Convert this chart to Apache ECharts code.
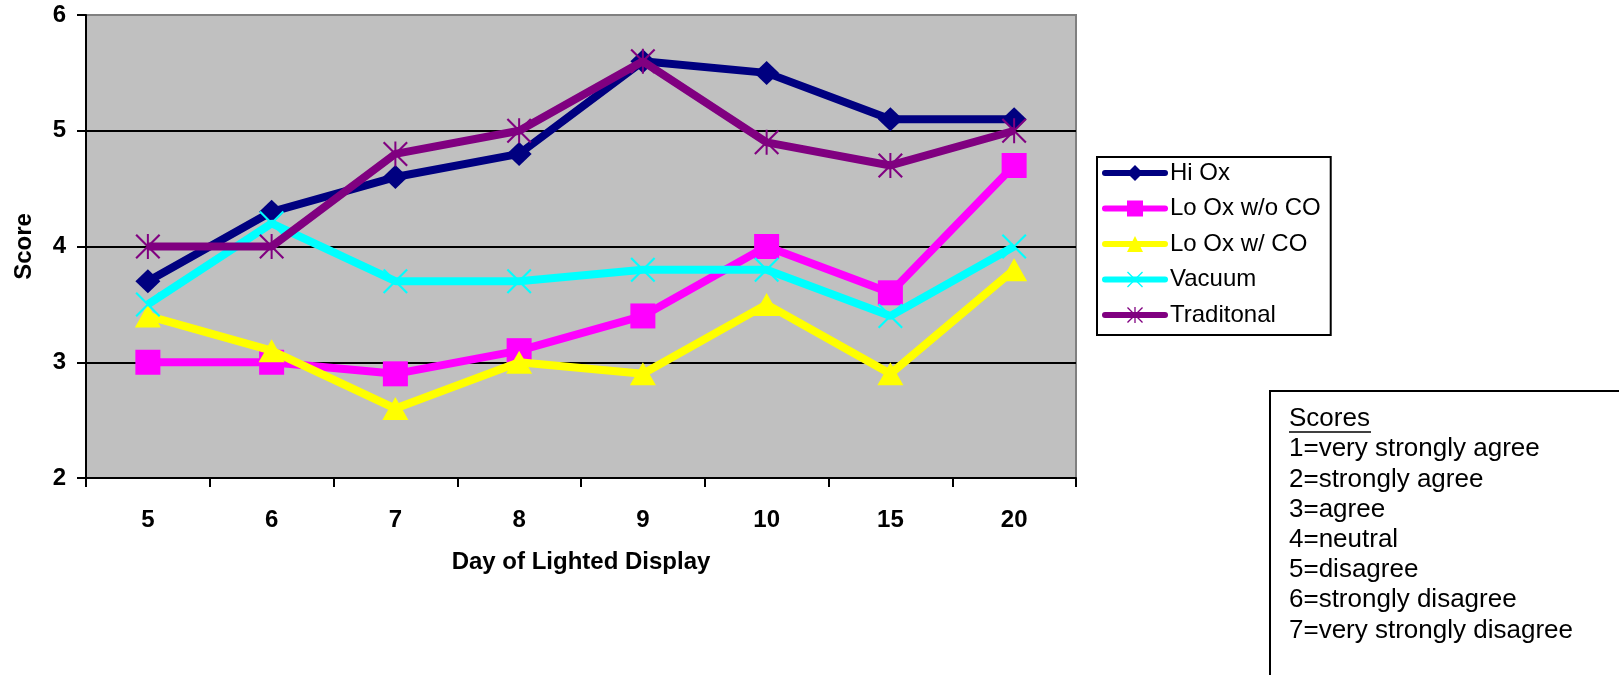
<!DOCTYPE html>
<html>
<head>
<meta charset="utf-8">
<script src="https://cdn.jsdelivr.net/npm/echarts@6/dist/echarts.min.js"></script>
<style>
html,body{margin:0;padding:0;background:#fff;}
#chart{width:1619px;height:675px;}
</style>
</head>
<body>
<div id="chart"></div>
<script>
const categories = ['5', '6', '7', '8', '9', '10', '15', '20'];
const hiOx = [3.7, 4.3, 4.6, 4.8, 5.6, 5.5, 5.1, 5.1];
const loOxNoCO = [3.0, 3.0, 2.9, 3.1, 3.4, 4.0, 3.6, 4.7];
const loOxCO = [3.4, 3.1, 2.6, 3.0, 2.9, 3.5, 2.9, 3.8];
const vacuum = [3.5, 4.2, 3.7, 3.7, 3.8, 3.8, 3.4, 4.0];
const traditional = [4.0, 4.0, 4.8, 5.0, 5.6, 4.9, 4.7, 5.0];
const seriesNames = ['Hi Ox', 'Lo Ox w/o CO', 'Lo Ox w/ CO', 'Vacuum', 'Traditonal'];
const yMin = 2, yMax = 6, yStep = 1;
const xTitle = 'Day of Lighted Display';
const yTitle = 'Score';
const scoresTitle = 'Scores';
const scoreLines = ['1=very strongly agree', '2=strongly agree', '3=agree', '4=neutral',
  '5=disagree', '6=strongly disagree', '7=very strongly disagree'];

const FONT = '"Liberation Sans", Arial, Helvetica, sans-serif';
const xPath = 'path://M0,6L6,0L100,94L94,100ZM94,0L100,6L6,100L0,94Z';
const starPath = 'path://M0,6L6,0L100,94L94,100ZM94,0L100,6L6,100L0,94ZM46,0L54,0L54,100L46,100Z';

const seriesData = [hiOx, loOxNoCO, loOxCO, vacuum, traditional];
const colors = ['#000080', '#FF00FF', '#FFFF00', '#00FFFF', '#800080'];
const symbols = ['diamond', 'rect', 'triangle', xPath, starPath];
const symbolSizes = [[25, 24], [25, 25], [26, 23], [25, 25], [25, 25]];

const chart = echarts.init(document.getElementById('chart'), null, {renderer: 'canvas'});

const lineStep = 30.2;
const firstY = 419;
const scoreGraphics = [
  {type: 'rect', left: 1269, top: 390, shape: {width: 400, height: 320},
   style: {fill: '#fff', stroke: '#000', lineWidth: 2}, z: 10},
  {type: 'text', x: 1289, y: firstY, style: {text: scoresTitle, font: '26px ' + FONT, fill: '#000',
   verticalAlign: 'middle', align: 'left'}, z: 11},
  {type: 'line', shape: {x1: 1289, y1: firstY + 13, x2: 1371, y2: firstY + 13}, style: {stroke: '#000', lineWidth: 1.5}, z: 11}
];
scoreLines.forEach((t, i) => {
  scoreGraphics.push({type: 'text', x: 1289, y: firstY + lineStep * (i + 1),
    style: {text: t, font: '26px ' + FONT, fill: '#000', verticalAlign: 'middle', align: 'left'}, z: 11});
});

const option = {
  animation: false,
  backgroundColor: '#ffffff',
  textStyle: {fontFamily: FONT},
  grid: {left: 86, right: 543, top: 15, bottom: 197, show: true, backgroundColor: '#C0C0C0',
    borderColor: '#808080', borderWidth: 2, containLabel: false, outerBoundsMode: 'none'},
  legend: {
    orient: 'vertical', left: 1097, top: 157,
    data: seriesNames,
    itemWidth: 60, itemHeight: 20, itemGap: 11.5,
    padding: [4, 10, 8, 5],
    borderColor: '#000', borderWidth: 2, backgroundColor: '#fff',
    lineStyle: {width: 6, cap: 'round'},
    textStyle: {fontFamily: FONT, fontSize: 24, color: '#000'},
    selectedMode: false
  },
  xAxis: {
    type: 'category', data: categories, boundaryGap: true,
    name: xTitle, nameLocation: 'middle', nameGap: 72,
    nameTextStyle: {fontFamily: FONT, fontSize: 24, fontWeight: 'bold', color: '#000'},
    axisLine: {show: true, lineStyle: {color: '#000', width: 2}},
    axisTick: {show: true, alignWithLabel: false, length: 9, lineStyle: {color: '#000', width: 2}},
    axisLabel: {show: true, margin: 30, fontFamily: FONT, fontSize: 24, fontWeight: 'bold', color: '#000', interval: 0},
    splitLine: {show: false}
  },
  yAxis: {
    type: 'value', min: yMin, max: yMax, interval: yStep,
    name: yTitle, nameLocation: 'middle', nameGap: 50, nameRotate: 90,
    nameTextStyle: {fontFamily: FONT, fontSize: 24, fontWeight: 'bold', color: '#000'},
    axisLine: {show: true, lineStyle: {color: '#000', width: 2}},
    axisTick: {show: true, length: 9, lineStyle: {color: '#000', width: 2}},
    axisLabel: {show: true, margin: 20, fontFamily: FONT, fontSize: 24, fontWeight: 'bold', color: '#000'},
    splitLine: {show: true, lineStyle: {color: ['#000', '#000', '#000', '#000', '#808080'], width: 2}}
  },
  series: seriesNames.map((n, i) => ({
    name: n, type: 'line', data: seriesData[i],
    symbol: symbols[i], symbolSize: symbolSizes[i], showSymbol: true,
    lineStyle: {color: colors[i], width: 8},
    itemStyle: {color: colors[i], borderWidth: 0},
    emphasis: {disabled: true},
    z: 2 + i
  })),
  graphic: scoreGraphics
};
chart.setOption(option);
</script>
</body>
</html>
